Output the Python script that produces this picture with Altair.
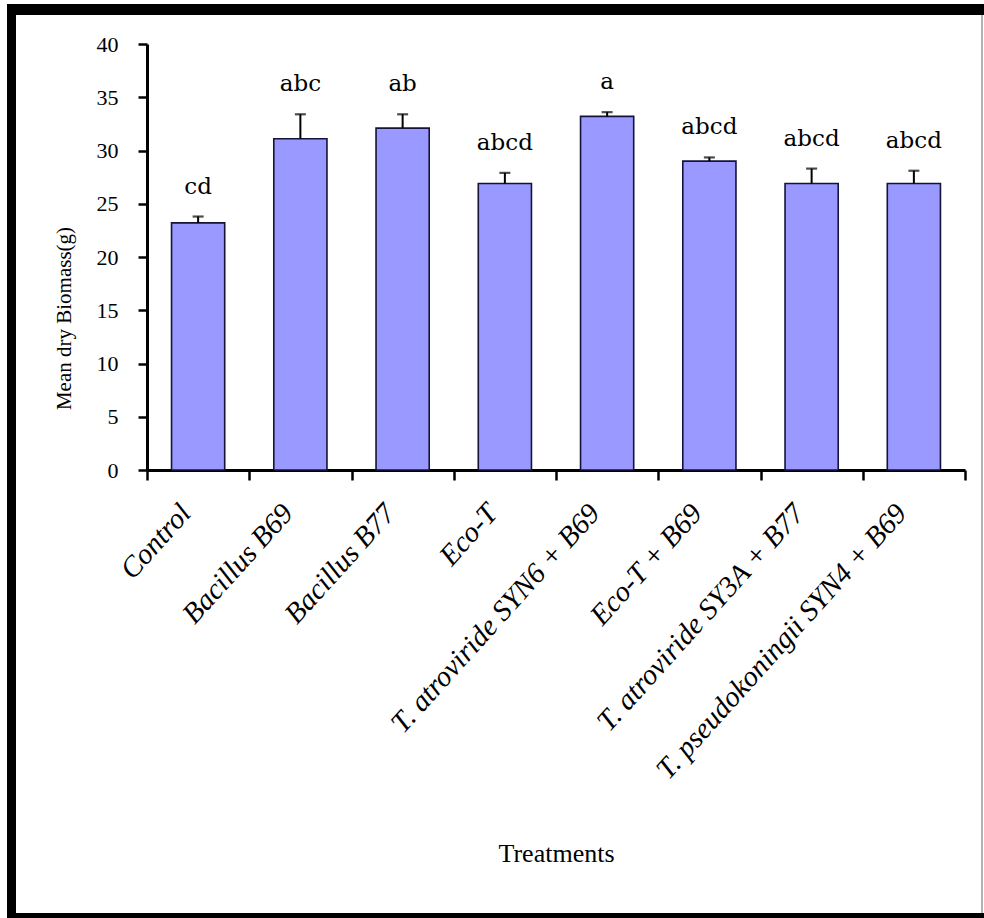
import altair as alt
import pandas as pd

# Mean dry biomass per treatment, standard error and significance letters
treatments = [
    "Control",
    "Bacillus B69",
    "Bacillus B77",
    "Eco-T",
    "T. atroviride SYN6 + B69",
    "Eco-T + B69",
    "T. atroviride SY3A + B77",
    "T. pseudokoningii SYN4 + B69",
]
biomass = [23.2, 31.1, 32.1, 26.9, 33.2, 29.0, 26.9, 26.9]
std_err = [0.6, 2.3, 1.3, 1.0, 0.4, 0.35, 1.4, 1.2]
letters = ["cd", "abc", "ab", "abcd", "a", "abcd", "abcd", "abcd"]

df = pd.DataFrame({
    "treatment": treatments,
    "biomass": biomass,
    "se": std_err,
    "letter": letters,
})

SERIF = "Liberation Serif"
X_TITLE = "Treatments"
Y_TITLE = "Mean dry Biomass(g)"

x_scale = alt.Scale(domain=treatments, paddingInner=0, paddingOuter=0)
y_scale = alt.Scale(domain=[0, 40], nice=False)

x_enc = alt.X("treatment:N", sort=treatments, scale=x_scale, title=X_TITLE)

base = alt.Chart(df)

bars = base.mark_bar(
    color="#9999FF",
    stroke="#14143A",
    strokeWidth=1.6,
    width=alt.RelativeBandSize(0.52),
).encode(x=x_enc, y=alt.Y("biomass:Q", scale=y_scale, title=Y_TITLE))

with_top = base.transform_calculate(top="datum.biomass + datum.se")

err_rule = with_top.mark_rule(color="black", strokeWidth=2).encode(
    x=x_enc,
    y=alt.Y("biomass:Q", scale=y_scale, title=Y_TITLE),
    y2="top:Q",
)

err_cap = with_top.mark_tick(color="black", thickness=2.2, size=11).encode(
    x=x_enc,
    y=alt.Y("top:Q", scale=y_scale, title=Y_TITLE),
)

letter_text = with_top.mark_text(
    font="DejaVu Serif",
    fontSize=23,
    color="black",
    baseline="middle",
    dy=-30,
).encode(
    x=x_enc,
    y=alt.Y("top:Q", scale=y_scale, title=Y_TITLE),
    text="letter:N",
)

# Picture frame around the whole figure
one_row = alt.Data(values=[{}])
frame_left = alt.Chart(one_row).mark_rect(color="black").encode(
    x=alt.value(-140), x2=alt.value(-131), y=alt.value(-40), y2=alt.value(874)
)
frame_top = alt.Chart(one_row).mark_rect(color="black").encode(
    x=alt.value(-140), x2=alt.value(837), y=alt.value(-40), y2=alt.value(-29)
)
frame_bottom = alt.Chart(one_row).mark_rect(color="black").encode(
    x=alt.value(-140), x2=alt.value(837), y=alt.value(869), y2=alt.value(874)
)
frame_right = alt.Chart(one_row).mark_rule(color="#9a9a9a", strokeWidth=1.5).encode(
    x=alt.value(835), y=alt.value(-29), y2=alt.value(869)
)

chart = alt.layer(
    bars, err_rule, err_cap, letter_text,
    frame_left, frame_top, frame_bottom, frame_right,
).properties(
    width=818,
    height=426,
    padding={"left": 147, "top": 44, "right": 19, "bottom": 448},
    autosize=alt.AutoSizeParams(type="none"),
    background="white",
).configure_view(
    stroke=None
).configure_axis(
    grid=False,
    domainColor="black",
    domainWidth=3,
    tickColor="black",
    tickWidth=2.5,
    labelColor="black",
    labelFont=SERIF,
    titleFont=SERIF,
    titleFontWeight="normal",
    titleColor="black",
).configure_axisX(
    titleFontSize=26,
    titleY=383,
    titleBaseline="middle",
    labelAngle=-48,
    labelAlign="right",
    labelBaseline="middle",
    labelFontStyle="italic",
    labelFontSize=29,
    labelOffset=-13,
    labelPadding=28,
    labelLimit=0,
    tickBand="extent",
    tickSize=10,
).configure_axisY(
    titleFontSize=21,
    titleX=-83,
    titleY=274,
    titleBaseline="middle",
    titleAlign="center",
    labelFontSize=22,
    labelPadding=20,
    tickSize=9,
    tickCount=8,
)

chart.save("out.html", embed_options={"renderer": "svg", "actions": False})
